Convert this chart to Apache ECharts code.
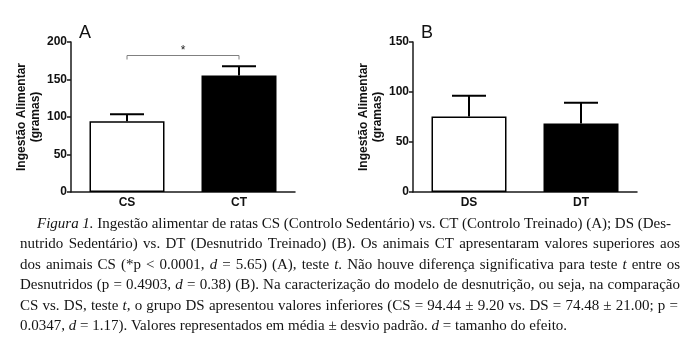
<!DOCTYPE html>
<html>
<head>
<meta charset="utf-8">
<script src="https://cdn.jsdelivr.net/npm/echarts@6/dist/echarts.min.js"></script>
<style>
html, body { margin: 0; padding: 0; background: #fff; }
#chart { width: 698px; height: 344px; }
</style>
</head>
<body>
<div id="chart"></div>
<script>
// dados do painel A (controlos)
var categoriesA = ['CS', 'CT'];
var meansA = [94.44, 155.4];
var sdA = [9.2, 12.2];
var yMaxA = 200;

// dados do painel B (desnutridos)
var categoriesB = ['DS', 'DT'];
var meansB = [75.5, 68.5];
var sdB = [20.8, 20.8];
var yMaxB = 150;

var yStep = 50;
var barFill = ['#ffffff', '#000000'];

// barra de significancia: de categoria 0 a 1, ao nivel 182
var sigBracketA = [[0, 1, 182]];
var sigLabel = '*';

var panelLetters = ['A', 'B'];
var yName = 'Ingestão Alimentar\n(gramas)';

// legenda (texto entre _ fica em italico)
var captionLines = [
    '_Figura 1._ Ingestão alimentar de ratas CS (Controlo Sedentário) vs. CT (Controlo Treinado) (A); DS (Des-',
    'nutrido Sedentário) vs. DT (Desnutrido Treinado) (B). Os animais CT apresentaram valores superiores aos',
    'dos animais CS (*p < 0.0001, _d_ = 5.65) (A), teste _t_. Não houve diferença significativa para teste _t_ entre os',
    'Desnutridos (p = 0.4903, _d_ = 0.38) (B). Na caracterização do modelo de desnutrição, ou seja, na comparação',
    'CS vs. DS, teste _t_, o grupo DS apresentou valores inferiores (CS = 94.44 ± 9.20 vs. DS = 74.48 ± 21.00; p =',
    '0.0347, _d_ = 1.17). Valores representados em média ± desvio padrão. _d_ = tamanho do efeito.'
];

var captionSize = 15;
var captionLeft = [37, 20, 20, 20, 20, 20];
var captionRight = [671, 680, 680, 680, 678, null];
var captionY = [224, 244.5, 265, 285.5, 306, 326.5];

var axisColor = '#1a1a1a';
var sansFont = '"Liberation Sans", Arial, sans-serif';
var serifFont = '"Liberation Serif", "Times New Roman", serif';

var chart = echarts.init(document.getElementById('chart'));

function renderErrorBar(params, api) {
    var x = api.value(0);
    var m = api.value(1);
    var s = api.value(2);
    var base = api.coord([x, m]);
    var top = api.coord([x, m + s]);
    var half = 17;
    var st = { stroke: '#000', lineWidth: 2 };
    return {
        type: 'group',
        children: [
            { type: 'line', shape: { x1: base[0], y1: base[1], x2: top[0], y2: top[1] }, style: st },
            { type: 'line', shape: { x1: top[0] - half, y1: top[1], x2: top[0] + half, y2: top[1] }, style: st }
        ]
    };
}

function renderBracket(params, api) {
    var p1 = api.coord([api.value(0), api.value(2)]);
    var p2 = api.coord([api.value(1), api.value(2)]);
    var drop = 4;
    return {
        type: 'group',
        children: [
            {
                type: 'polyline',
                shape: { points: [[p1[0], p1[1] + drop], [p1[0], p1[1]], [p2[0], p2[1]], [p2[0], p2[1] + drop]] },
                style: { stroke: '#808080', lineWidth: 1, fill: null }
            },
            {
                type: 'text',
                x: (p1[0] + p2[0]) / 2,
                y: p1[1] - 5,
                style: { text: sigLabel, font: '12px ' + sansFont, fill: '#222', align: 'center', verticalAlign: 'middle' }
            }
        ]
    };
}

function xAxisFor(idx, cats) {
    return {
        type: 'category',
        gridIndex: idx,
        data: cats,
        axisLine: { lineStyle: { color: axisColor, width: 1.5 } },
        axisTick: { alignWithLabel: true, length: 4, lineStyle: { color: axisColor, width: 1.5 } },
        axisLabel: { color: '#111', fontWeight: 'bold', fontSize: 12, fontFamily: sansFont, margin: 5 }
    };
}

function yAxisFor(idx, max) {
    return {
        type: 'value',
        gridIndex: idx,
        min: 0,
        max: max,
        interval: yStep,
        name: yName,
        nameLocation: 'middle',
        nameRotate: 90,
        nameGap: 23,
        nameTextStyle: { color: '#111', fontWeight: 'bold', fontSize: 12, fontFamily: sansFont, lineHeight: 14 },
        axisLine: { show: true, lineStyle: { color: axisColor, width: 1.5 } },
        axisTick: { show: true, length: 4, lineStyle: { color: axisColor, width: 1.5 } },
        axisLabel: { color: '#111', fontWeight: 'bold', fontSize: 12, fontFamily: sansFont, margin: 4 },
        splitLine: { show: false }
    };
}

function barSeries(idx, means) {
    return {
        type: 'bar',
        xAxisIndex: idx,
        yAxisIndex: idx,
        barWidth: 75,
        itemStyle: { borderColor: '#000', borderWidth: 1.5 },
        data: means.map(function (v, i) {
            return { value: v, itemStyle: { color: barFill[i] } };
        })
    };
}

function errSeries(idx, means, sd) {
    return {
        type: 'custom',
        xAxisIndex: idx,
        yAxisIndex: idx,
        z: 5,
        renderItem: renderErrorBar,
        encode: { x: 0, y: 1 },
        data: means.map(function (v, i) { return [i, v, sd[i]]; })
    };
}

// legenda justificada palavra a palavra
var measureCtx = document.createElement('canvas').getContext('2d');
function fontOf(italic) {
    return (italic ? 'italic ' : '') + captionSize + 'px ' + serifFont;
}
function captionGraphics() {
    var out = [];
    captionLines.forEach(function (line, li) {
        var italic = false;
        var words = line.split(' ').map(function (w) {
            var parts = w.split('_');
            var pieces = [];
            parts.forEach(function (p, k) {
                if (k > 0) italic = !italic;
                if (p.length) {
                    measureCtx.font = fontOf(italic);
                    pieces.push({ t: p, it: italic, w: measureCtx.measureText(p).width });
                }
            });
            var total = 0;
            pieces.forEach(function (p) { total += p.w; });
            return { pieces: pieces, w: total };
        });
        var sum = 0;
        words.forEach(function (w) { sum += w.w; });
        measureCtx.font = fontOf(false);
        var gap = measureCtx.measureText(' ').width;
        if (captionRight[li] !== null && words.length > 1) {
            gap = (captionRight[li] - captionLeft[li] - sum) / (words.length - 1);
        }
        var x = captionLeft[li];
        words.forEach(function (w) {
            w.pieces.forEach(function (p) {
                out.push({
                    type: 'text',
                    x: x,
                    y: captionY[li],
                    style: { text: p.t, font: fontOf(p.it), fill: '#141414', align: 'left', verticalAlign: 'middle' }
                });
                x += p.w;
            });
            x += gap;
        });
    });
    return out;
}

var letterGraphics = [
    { type: 'text', x: 79, y: 33, style: { text: panelLetters[0], font: '18px ' + sansFont, fill: '#111', verticalAlign: 'middle' } },
    { type: 'text', x: 421, y: 33, style: { text: panelLetters[1], font: '18px ' + sansFont, fill: '#111', verticalAlign: 'middle' } }
];

var option = {
    animation: false,
    backgroundColor: '#fff',
    grid: [
        { left: 71, top: 42, width: 224, height: 150 },
        { left: 413, top: 42, width: 224, height: 150 }
    ],
    xAxis: [xAxisFor(0, categoriesA), xAxisFor(1, categoriesB)],
    yAxis: [yAxisFor(0, yMaxA), yAxisFor(1, yMaxB)],
    graphic: letterGraphics.concat(captionGraphics()),
    series: [
        barSeries(0, meansA),
        errSeries(0, meansA, sdA),
        barSeries(1, meansB),
        errSeries(1, meansB, sdB),
        {
            type: 'custom',
            xAxisIndex: 0,
            yAxisIndex: 0,
            renderItem: renderBracket,
            encode: { x: 0, y: 2 },
            data: sigBracketA
        }
    ]
};

chart.setOption(option);
</script>
</body>
</html>
